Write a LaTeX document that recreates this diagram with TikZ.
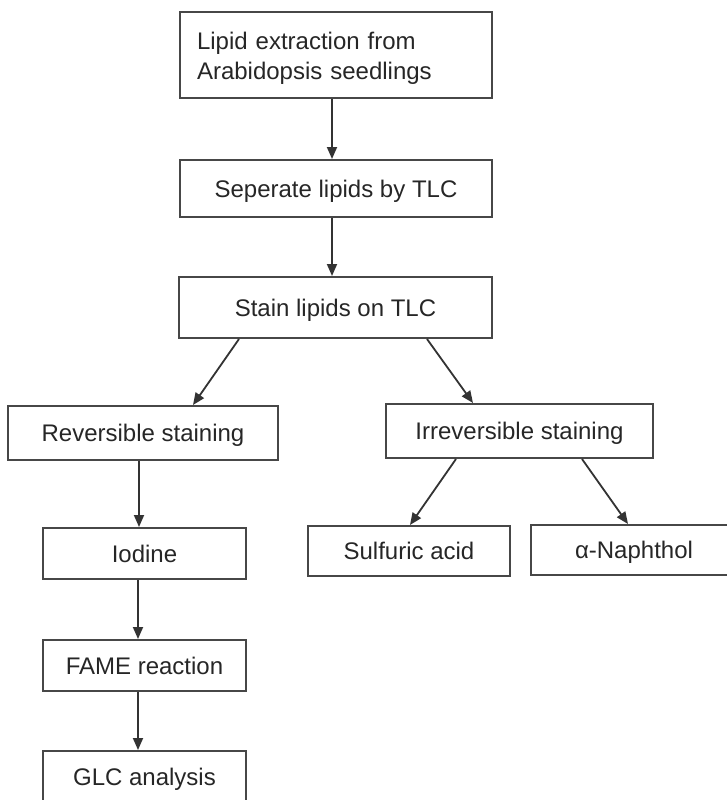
\documentclass[tikz,border=0pt]{standalone}
\usepackage{fontspec}
\setmainfont{Liberation Sans}
\usetikzlibrary{arrows.meta}
\begin{document}
\begin{tikzpicture}[x=1pt,y=-1pt,
  boxbase/.style={draw=black!72, line width=2pt, rectangle, inner sep=0pt,
    text=black!85, font=\fontsize{24}{30}\selectfont},
  box/.style={boxbase, text height=17pt, text depth=0pt},
  arr/.style={draw=black!80, line width=1.8pt, -{Triangle[length=12pt,width=10pt]}}]
\useasboundingbox (0,0) rectangle (727,800);
\clip (0,0) rectangle (727,800);
\node[boxbase, minimum width=312pt, minimum height=86pt, text width=278pt, align=left] (s1) at (336,55) {\rule{0pt}{24.5pt}Lipid extraction from\\Arabidopsis seedlings};
\node[box, minimum width=312pt, minimum height=57pt] (s2) at (336,188.5) {Seperate lipids by TLC};
\node[box, minimum width=313pt, minimum height=61pt] (s3) at (335.5,307.5) {Stain lipids on TLC};
\node[box, minimum width=270pt, minimum height=54pt] (s4) at (143,433) {Reversible staining};
\node[box, minimum width=267pt, minimum height=54pt] (s5) at (519.5,431) {Irreversible staining};
\node[box, minimum width=203pt, minimum height=51pt] (s6) at (144.5,553.5) {Iodine};
\node[box, minimum width=202pt, minimum height=50pt] (s7) at (409,551) {Sulfuric acid};
\node[box, minimum width=206pt, minimum height=50pt] (s8) at (634,550) {α-Naphthol};
\node[box, minimum width=203pt, minimum height=51pt] (s9) at (144.5,665.5) {FAME reaction};
\node[box, minimum width=203pt, minimum height=51pt] (s10) at (144.5,776.5) {GLC analysis};
\draw[arr] ([xshift=-4pt]s1.south) -- ([xshift=-4pt]s2.north);
\draw[arr] ([xshift=-4pt]s2.south) -- ([xshift=-3.5pt]s3.north);
\draw[arr] ([xshift=-96.5pt]s3.south) -- ([xshift=50pt]s4.north);
\draw[arr] ([xshift=91.5pt]s3.south) -- ([xshift=-46.5pt]s5.north);
\draw[arr] ([xshift=-4pt]s4.south) -- ([xshift=-5.5pt]s6.north);
\draw[arr] ([xshift=-63.5pt]s5.south) -- ([xshift=1pt]s7.north);
\draw[arr] ([xshift=62.5pt]s5.south) -- ([xshift=-6pt]s8.north);
\draw[arr] ([xshift=-6.5pt]s6.south) -- ([xshift=-6.5pt]s9.north);
\draw[arr] ([xshift=-6.5pt]s9.south) -- ([xshift=-6.5pt]s10.north);
\end{tikzpicture}
\end{document}
